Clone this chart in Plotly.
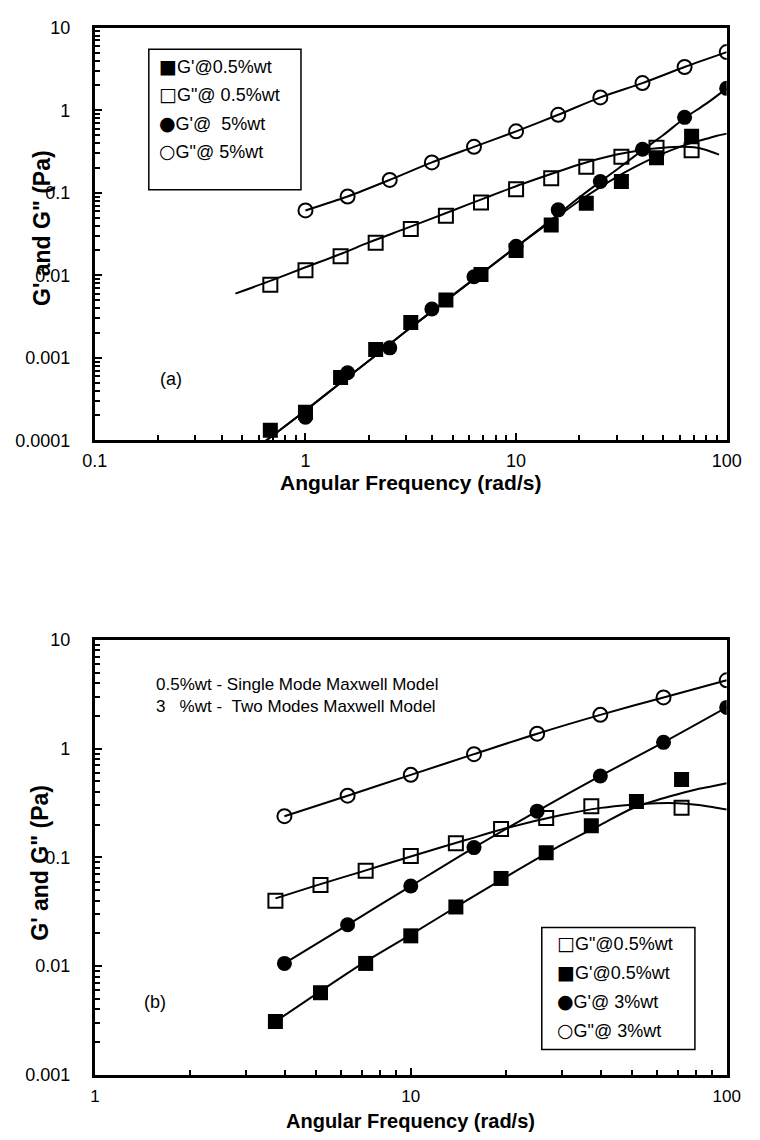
import plotly.graph_objects as go

# ---------------- Panel (a) data ----------------
w_a_sq = [0.681, 1.0, 1.468, 2.154, 3.162, 4.642, 6.813, 10.0, 14.68, 21.54, 31.62, 46.42, 68.13]
gp_a_05 = [0.000132, 0.000219, 0.000575, 0.00126, 0.00268, 0.0050, 0.0102, 0.020, 0.0406, 0.0745, 0.137, 0.265, 0.483]
gpp_a_05 = [0.0077, 0.0115, 0.017, 0.0247, 0.0363, 0.0525, 0.0759, 0.110, 0.150, 0.207, 0.273, 0.350, 0.328]

w_a_ci = [1.0, 1.585, 2.512, 3.981, 6.310, 10.0, 15.85, 25.12, 39.81, 63.10, 100.0]
gp_a_5 = [0.00019, 0.00066, 0.00132, 0.0039, 0.0096, 0.0225, 0.062, 0.137, 0.337, 0.82, 1.84]
gpp_a_5 = [0.061, 0.090, 0.143, 0.233, 0.36, 0.555, 0.88, 1.43, 2.13, 3.34, 5.06]

# model curves
w_fit_a_gpp05 = [0.465, 0.7, 1, 1.5, 2, 3, 5, 7, 10, 15, 20, 30, 40, 50, 60, 70, 80, 92]
fit_a_gpp05 = [0.0060, 0.0088, 0.0125, 0.0185, 0.025, 0.037, 0.061, 0.085, 0.12, 0.172, 0.22, 0.29, 0.33, 0.35, 0.36, 0.355, 0.33, 0.29]
w_fit_a_gp05 = [0.6, 1, 1.5, 2, 3, 5, 7, 10, 15, 20, 30, 40, 50, 60, 70, 80, 90, 100]
fit_a_gp05 = [0.000085, 0.00023, 0.00052, 0.00092, 0.0021, 0.0057, 0.011, 0.022, 0.047, 0.08, 0.155, 0.23, 0.30, 0.36, 0.41, 0.45, 0.49, 0.52]
w_fit_a_gp5 = [0.6, 1, 1.5, 2, 3, 5, 7, 10, 15, 20, 25, 30, 40, 50, 63, 80, 100]
fit_a_gp5 = [0.000085, 0.00023, 0.00052, 0.00092, 0.0021, 0.0057, 0.011, 0.022, 0.049, 0.088, 0.135, 0.19, 0.33, 0.5, 0.8, 1.2, 1.84]

# ---------------- Panel (b) data ----------------
w_b_sq = [3.728, 5.179, 7.197, 10.0, 13.89, 19.31, 26.83, 37.28, 51.79, 71.97]
gpp_b_05 = [0.040, 0.0556, 0.0753, 0.103, 0.135, 0.182, 0.23, 0.295, None, 0.285]
gp_b_05 = [0.0031, 0.0057, 0.0106, 0.019, 0.035, 0.064, 0.11, 0.195, 0.327, 0.52]

w_b_ci = [3.981, 6.310, 10.0, 15.85, 25.12, 39.81, 63.10, 100.0]
gp_b_3 = [0.0106, 0.024, 0.0545, 0.123, 0.266, 0.56, 1.14, 2.39]
gpp_b_3 = [0.239, 0.369, 0.573, 0.888, 1.37, 2.04, 2.95, 4.24]

w_fit_b = [3.73, 5, 7, 10, 15, 20, 30, 40, 50, 60, 70, 80, 90, 100]
fit_b_gpp05 = [0.042, 0.055, 0.074, 0.102, 0.145, 0.185, 0.245, 0.285, 0.305, 0.315, 0.315, 0.305, 0.29, 0.275]
fit_b_gp05 = [0.0031, 0.0055, 0.0105, 0.0195, 0.04, 0.066, 0.13, 0.2, 0.28, 0.335, 0.38, 0.42, 0.45, 0.48]

# ticks
x_ticks_a = [0.1, 1, 10, 100]
x_ticklabels_a = ["0.1", "1", "10", "100"]
y_ticks_a = [0.0001, 0.001, 0.01, 0.1, 1, 10]
y_ticklabels_a = ["0.0001", "0.001", "0.01", "0.1", "1", "10"]
x_ticks_b = [1, 10, 100]
x_ticklabels_b = ["1", "10", "100"]
y_ticks_b = [0.001, 0.01, 0.1, 1, 10]
y_ticklabels_b = ["0.001", "0.01", "0.1", "1", "10"]

SQ_F, SQ_O, CI_F, CI_O = "\u25a0", "\u25a1", "\u25cf", "\u25cb"
legend_a = [(SQ_F, "G'@0.5%wt"), (SQ_O, "G\"@ 0.5%wt"), (CI_F, "G'@ \u00a05%wt"), (CI_O, "G\"@ 5%wt")]
legend_b = [(SQ_O, "G\"@0.5%wt"), (SQ_F, "G'@0.5%wt"), (CI_F, "G'@ 3%wt"), (CI_O, "G\"@ 3%wt")]
note_b = ["0.5%wt - Single Mode Maxwell Model", "3 \u00a0 %wt - \u00a0Two Modes Maxwell Model"]

W, H = 760, 1140
FONT = "Liberation Sans, Arial, Helvetica, sans-serif"


def px(x):
    return x / W


def py(y):
    return 1 - y / H


fig = go.Figure()
LW = 2


def line(x, y, xa, ya):
    fig.add_trace(go.Scatter(x=x, y=y, mode="lines", xaxis=xa, yaxis=ya, showlegend=False,
                             line=dict(color="black", width=LW, shape="spline", smoothing=0.8),
                             connectgaps=True, hoverinfo="skip"))


def marks(x, y, xa, ya, symbol, name, size=15, with_line=False):
    open_sym = symbol.endswith("open")
    fig.add_trace(go.Scatter(
        x=x, y=y, xaxis=xa, yaxis=ya, name=name, showlegend=False,
        mode="lines+markers" if with_line else "markers",
        line=dict(color="black", width=LW, shape="spline", smoothing=0.8),
        marker=dict(symbol=symbol, size=size - (1 if open_sym else 0), color="black",
                    line=dict(color="black", width=2 if open_sym else 0)),
    ))


# Panel (a)
line(w_fit_a_gpp05, fit_a_gpp05, "x", "y")
line(w_fit_a_gp05, fit_a_gp05, "x", "y")
line(w_fit_a_gp5, fit_a_gp5, "x", "y")
marks(w_a_ci, gpp_a_5, "x", "y", "circle-open", "G\"@5%wt", with_line=True)
marks(w_a_sq, gpp_a_05, "x", "y", "square-open", "G\"@0.5%wt")
marks(w_a_ci, gp_a_5, "x", "y", "circle", "G'@5%wt")
marks(w_a_sq, gp_a_05, "x", "y", "square", "G'@0.5%wt")

# Panel (b)
line(w_fit_b, fit_b_gpp05, "x2", "y2")
line(w_fit_b, fit_b_gp05, "x2", "y2")
marks(w_b_ci, gpp_b_3, "x2", "y2", "circle-open", "G\"@3%wt", with_line=True)
marks(w_b_ci, gp_b_3, "x2", "y2", "circle", "G'@3%wt", with_line=True)
marks(w_b_sq, gpp_b_05, "x2", "y2", "square-open", "G\"@0.5%wt")
marks(w_b_sq, gp_b_05, "x2", "y2", "square", "G'@0.5%wt")


def minor_vals(lo, hi):
    out = []
    for e in range(lo, hi):
        for m in range(2, 10):
            out.append(m * 10.0 ** e)
    return out


def axis_common(tv, tt, minor, standoff, fsize=18):
    return dict(type="log", tickmode="array", tickvals=tv, ticktext=tt,
                ticks="inside", ticklen=7, tickwidth=2, tickcolor="black",
                minor=dict(tickmode="array", tickvals=minor, ticks="inside", ticklen=5,
                           tickwidth=2, tickcolor="black", showgrid=False),
                showline=True, linewidth=3, linecolor="black", mirror=True,
                showgrid=False, zeroline=False,
                tickfont=dict(family=FONT, size=fsize, color="black"),
                ticklabelstandoff=standoff)


xdom = [px(85), px(741)]
fig.update_layout(
    width=W, height=H, margin=dict(l=0, r=0, t=0, b=0),
    paper_bgcolor="white", plot_bgcolor="white", showlegend=False,
    xaxis=dict(domain=xdom, anchor="y", range=[-1, 2],
               **axis_common(x_ticks_a, x_ticklabels_a, minor_vals(-1, 2), 2)),
    yaxis=dict(domain=[py(438), py(18)], anchor="x", range=[-4, 1],
               **axis_common(y_ticks_a, y_ticklabels_a, minor_vals(-4, 1), 18)),
    xaxis2=dict(domain=xdom, anchor="y2", range=[0, 2],
                **axis_common(x_ticks_b, x_ticklabels_b, minor_vals(0, 2), 4, 17)),
    yaxis2=dict(domain=[py(1084), py(641)], anchor="x2", range=[-3, 1],
                **axis_common(y_ticks_b, y_ticklabels_b, minor_vals(-3, 1), 18)),
)

ann = []
tfont = dict(family=FONT, size=21, color="black")
ytfont = dict(family=FONT, size=23, color="black")
ann.append(dict(text="<b>Angular Frequency (rad/s)</b>", x=px(413), y=py(481), xref="paper", yref="paper",
                showarrow=False, font=tfont, xanchor="center", yanchor="middle"))
ann.append(dict(text="<b>Angular Frequency (rad/s)</b>", x=px(413), y=py(1131), xref="paper", yref="paper",
                showarrow=False, font=dict(family=FONT, size=20, color="black"),
                xanchor="center", yanchor="middle"))
ann.append(dict(text="<b>G' and G\" (Pa)</b>", x=px(30), y=py(222), xref="paper", yref="paper",
                showarrow=False, font=ytfont, textangle=-90, xanchor="center", yanchor="middle"))
ann.append(dict(text="<b>G' and G\" (Pa)</b>", x=px(28), y=py(868), xref="paper", yref="paper",
                showarrow=False, font=ytfont, textangle=-90, xanchor="center", yanchor="middle"))

lfont = dict(family=FONT, size=18, color="black")
ann.append(dict(text="(a)", x=px(151), y=py(376), xref="paper", yref="paper", showarrow=False,
                font=lfont, xanchor="left", yanchor="middle"))
ann.append(dict(text="(b)", x=px(134), y=py(1010), xref="paper", yref="paper", showarrow=False,
                font=lfont, xanchor="left", yanchor="middle"))
for i, t in enumerate(note_b):
    ann.append(dict(text=t, x=px(146), y=py(687 + 22 * i), xref="paper", yref="paper", showarrow=False,
                    font=dict(family=FONT, size=17, color="black"), xanchor="left", yanchor="middle"))


def legend_text(glyph, label):
    return ('<span style="font-size:19px;font-family:DejaVu Sans">' + glyph + '</span>'
            + label)


for i, (g, t) in enumerate(legend_a):
    ann.append(dict(text=legend_text(g, t), x=px(150), y=py(57 + 29 * i), xref="paper", yref="paper",
                    showarrow=False, font=dict(family=FONT, size=18, color="black"),
                    xanchor="left", yanchor="middle"))
for i, (g, t) in enumerate(legend_b):
    ann.append(dict(text=legend_text(g, t), x=px(563), y=py(950 + 29.5 * i), xref="paper", yref="paper",
                    showarrow=False, font=dict(family=FONT, size=18, color="black"),
                    xanchor="left", yanchor="middle"))

shapes = [
    dict(type="rect", xref="paper", yref="paper", x0=px(141), x1=px(299), y0=py(183), y1=py(40),
         line=dict(color="black", width=1.5), fillcolor="rgba(0,0,0,0)"),
    dict(type="rect", xref="paper", yref="paper", x0=px(549), x1=px(708), y0=py(1058), y1=py(934),
         line=dict(color="black", width=1.5), fillcolor="rgba(0,0,0,0)"),
]
fig.update_layout(annotations=ann, shapes=shapes)

fig.write_html("out.html")
